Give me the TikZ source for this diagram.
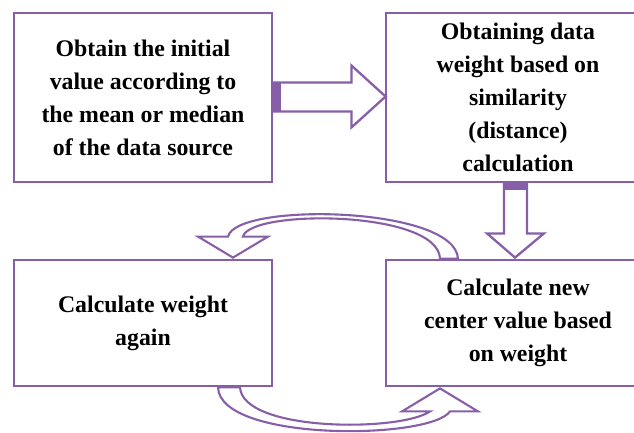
\documentclass[tikz,border=0pt]{standalone}
\usepackage{fontspec}
\setmainfont{Liberation Serif}
\usetikzlibrary{calc}
\definecolor{vio}{RGB}{135,95,168}
\begin{document}
\begin{tikzpicture}[x=1pt,y=-1pt,
  stage/.style={draw=vio, line width=2.8pt, align=center,
    font=\bfseries\fontsize{23.8}{33}\selectfont, inner sep=0pt},
  blk/.style={draw=vio, line width=2.3pt, fill=white, line join=miter},
  loopback/.style={draw=vio, line width=2.1pt, fill=white, line join=miter},
]
\useasboundingbox (0,0) rectangle (634,433);

% the four process boxes
\node[stage, minimum width=258pt, minimum height=169pt] (A) at (143,97.5)
  {Obtain the initial\\value according to\\the mean or median\\of the data source};
\node[stage, minimum width=264pt, minimum height=169pt] (B) at (518,97.5)
  {Obtaining data\\weight based on\\similarity\\(distance)\\calculation};
\node[stage, minimum width=258pt, minimum height=126pt] (C) at (143,323)
  {Calculate weight\\again};
\node[stage, minimum width=264pt, minimum height=126pt] (D) at (518,323)
  {Calculate new\\center value based\\on weight};

% block arrow A -> B
\draw[blk] ($(A.east)+(0,-15)$) -- ($(A.east)+(78,-15)$) -- ($(A.east)+(78,-32)$)
  -- ($(B.west)+(1,-1)$) -- ($(A.east)+(78,30)$) -- ($(A.east)+(78,14)$)
  -- ($(A.east)+(0,14)$) -- cycle;
\fill[vio] ($(A.east)+(0,-15)$) rectangle ($(A.east)+(8,14)$);

% block arrow B -> D
\draw[blk] ($(B.south)+(-14,0)$) -- ($(B.south)+(-14,50)$) -- ($(B.south)+(-31,50)$)
  -- ($(D.north)+(-3,-1)$) -- ($(B.south)+(26,50)$) -- ($(B.south)+(9,50)$)
  -- ($(B.south)+(9,0)$) -- cycle;
\fill[vio] ($(B.south)+(-14,0)$) rectangle ($(B.south)+(9,7)$);

% curved arrow D -> C over the top
\draw[loopback] ($(C.north)+(90,-1)$) -- ($(C.north)+(55,-22)$) -- ($(C.north)+(85,-22)$)
  .. controls (236,202) and (455,206) .. ($(D.north)+(-60,0)$)
  -- ($(D.north)+(-78,0)$)
  .. controls (438,210) and (250,209) .. ($(C.north)+(100,-22)$)
  -- ($(C.north)+(125,-22)$) -- cycle;

% curved arrow C -> D underneath
\draw[loopback] ($(D.south)+(-78,1)$) -- ($(D.south)+(-116,24)$) -- ($(D.south)+(-88,24)$)
  .. controls (400,432) and (243,432) .. ($(C.south)+(97,0)$)
  -- ($(C.south)+(75,0)$)
  .. controls (220,442) and (430,440) .. ($(D.south)+(-68,24)$)
  -- ($(D.south)+(-40,24)$) -- cycle;
\end{tikzpicture}
\end{document}
